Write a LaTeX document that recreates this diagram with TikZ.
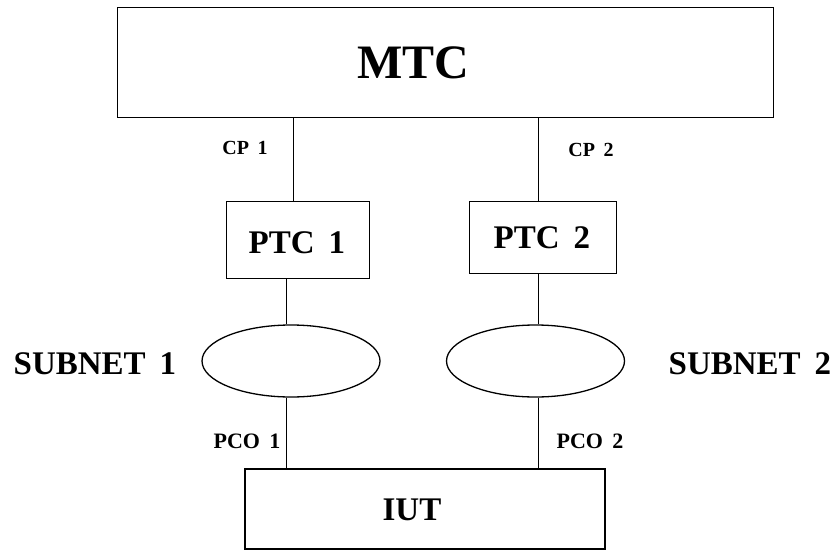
\documentclass[tikz,border=0pt]{standalone}
\usepackage{fontspec}
\setmainfont[WordSpace=1.7]{Liberation Serif}
\usetikzlibrary{calc}
\usetikzlibrary{shapes.geometric}

\begin{document}
\begin{tikzpicture}[x=1pt, y=-1pt]

                    % Page size of the reference, in pixels
                    \useasboundingbox (0, 0) rectangle (833, 551);

                    % Styles for the boxes, subnets and labels
                    \tikzset{
                        box/.style={draw, rectangle, inner sep=0, line width=0.8pt},
                        subnet/.style={draw, ellipse, inner sep=0, line width=1.3pt,
                            minimum width=178pt, minimum height=72pt},
                        lbl/.style={inner sep=0, font=\bfseries}
                    }

                    % Boxes and subnets
                    \begin{scope}
                        \node (mtc) at (445, 62) [box, minimum width=656pt, minimum height=110pt] {};
                        \node (ptc1) at (297.5, 239.5) [box, minimum width=143pt, minimum height=77pt] {};
                        \node (ptc2) at (542.5, 237) [box, minimum width=147pt, minimum height=72pt] {};
                        \node (net1) at (291, 361) [subnet] {};
                        \node (net2) at (535.5, 361) [subnet] {};
                        \node (iut) at (425, 509) [box, line width=1.2pt, minimum width=360pt, minimum height=80pt] {};
                    \end{scope}

                    % Texts
                    \begin{scope}[lbl]
                        \node (mtct) at (413, 63) [font=\fontsize{48}{50}\bfseries] {MTC};
                        \node (ptc1t) at (297, 243) [font=\fontsize{33}{35}\bfseries] {PTC 1};
                        \node (ptc2t) at (542, 238) [font=\fontsize{33}{35}\bfseries] {PTC 2};
                        \node (iutt) at (412, 510) [font=\fontsize{33}{35}\bfseries] {IUT};
                        \node (net1t) at (95, 364) [font=\fontsize{33}{35}\bfseries] {SUBNET 1};
                        \node (net2t) at (750, 364) [font=\fontsize{33}{35}\bfseries] {SUBNET 2};
                        \node (cp1) at (245, 148) [font=\fontsize{20}{22}\bfseries] {CP 1};
                        \node (cp2) at (591, 150) [font=\fontsize{20}{22}\bfseries] {CP 2};
                        \node (pco1) at (247, 441) [font=\fontsize{22}{24}\bfseries] {PCO 1};
                        \node (pco2) at (590, 441) [font=\fontsize{22}{24}\bfseries] {PCO 2};
                    \end{scope}

                    % Links, one vertical line per hop
                    \begin{scope}[line width=0.8pt]
                        \draw ([xshift=-4.5pt]ptc1.north) -- ([xshift=-4.5pt]ptc1.north |- mtc.south);
                        \draw ([xshift=-5pt]net1.north) -- ([xshift=-5pt]net1.north |- ptc1.south);
                        \draw ([xshift=-5pt]net1.south) -- ([xshift=-5pt]net1.south |- iut.north);
                        \draw ([xshift=-4.5pt]ptc2.north) -- ([xshift=-4.5pt]ptc2.north |- mtc.south);
                        \draw ([xshift=2.5pt]net2.north) -- ([xshift=2.5pt]net2.north |- ptc2.south);
                        \draw ([xshift=3pt]net2.south) -- ([xshift=3pt]net2.south |- iut.north);
                    \end{scope}

\end{tikzpicture}
\end{document}
